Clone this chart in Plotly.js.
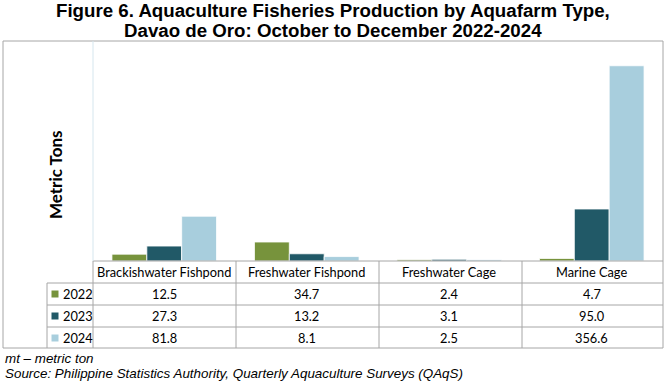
<!DOCTYPE html>
<html>
<head>
<meta charset="utf-8">
<script src="https://cdn.plot.ly/plotly-3.0.1.min.js"></script>
<style>html,body{margin:0;padding:0;background:#fff;}#chart{width:666px;height:382px;}</style>
</head>
<body>
<div id="chart"></div>
<script>
const categories = ["Brackishwater Fishpond", "Freshwater Fishpond", "Freshwater Cage", "Marine Cage"];
const years = ["2022", "2023", "2024"];
const v2022 = [12.5, 34.7, 2.4, 4.7];
const v2023 = [27.3, 13.2, 3.1, 95.0];
const v2024 = [81.8, 8.1, 2.5, 356.6];
const colors = ["#77933c", "#215967", "#a8cedd"];

const W = 666, H = 382;
const L = 93, R = 663, T = 42, B = 261;
const px = x => (x - L) / (R - L);
const py = y => (B - y) / (B - T);

const series = [v2022, v2023, v2024];
const traces = series.map((vals, i) => ({
  type: "bar", x: categories, y: vals, name: years[i],
  marker: {color: colors[i], line: {color: "#ffffff", width: 0.8}},
  hoverinfo: "x+y"
}));

const gridColor = "#a6a6a6";
const shapes = [];
function hline(y, x0, x1, color) { shapes.push({type: "line", xref: "paper", yref: "paper", x0: px(x0), x1: px(x1), y0: py(y), y1: py(y), line: {color: color || gridColor, width: 1}}); }
function vline(x, y0, y1, color) { shapes.push({type: "line", xref: "paper", yref: "paper", x0: px(x), x1: px(x), y0: py(y0), y1: py(y1), line: {color: color || gridColor, width: 1}}); }

// outer box
hline(41, 3, 663); vline(3, 41, 348); vline(663, 41, 348); hline(348, 3, 663);
// table
hline(261, 93, 663); hline(283, 47, 663); hline(305, 47, 663); hline(327, 47, 663);
vline(47, 283, 348); vline(93, 261, 348);
[236, 379, 522].forEach(x => vline(x, 261, 348));
// y axis line
vline(93, 41, 261, "#d5e6ee");

const rowY = [294, 316, 338];
const annotations = [];
const tfont = {family: "Lato, 'Open Sans', sans-serif", size: 12.8, color: "#000"};
categories.forEach(c => annotations.push({xref: "x", yref: "paper", x: c, y: py(272), text: c, showarrow: false, font: tfont, xanchor: "center", yanchor: "middle"}));
series.forEach((vals, i) => {
  shapes.push({type: "rect", xref: "paper", yref: "paper", x0: px(51.5), x1: px(58.5), y0: py(rowY[i] - 3.5), y1: py(rowY[i] + 3.5), fillcolor: colors[i], line: {width: 0}});
  annotations.push({xref: "paper", yref: "paper", x: px(61), y: py(rowY[i]), text: years[i], showarrow: false, font: tfont, xanchor: "left", yanchor: "middle"});
  vals.forEach((v, j) => annotations.push({xref: "x", yref: "paper", x: categories[j], y: py(rowY[i]), text: v.toFixed(1), showarrow: false, font: tfont, xanchor: "center", yanchor: "middle"}));
});

// titles
const titleFont = {family: "'Liberation Sans', Arial, sans-serif", size: 18.7, color: "#000"};
annotations.push({xref: "paper", yref: "paper", x: px(333), y: py(11), text: "<b>Figure 6. Aquaculture Fisheries Production by Aquafarm Type,</b>", showarrow: false, font: titleFont, xanchor: "center", yanchor: "middle"});
annotations.push({xref: "paper", yref: "paper", x: px(333), y: py(30), text: "<b>Davao de Oro: October to December 2022-2024</b>", showarrow: false, font: titleFont, xanchor: "center", yanchor: "middle"});
annotations.push({xref: "paper", yref: "paper", x: px(55), y: py(175), text: "<b>Metric Tons</b>", textangle: -90, showarrow: false, font: {family: "Lato, sans-serif", size: 17, color: "#000"}, xanchor: "center", yanchor: "middle"});
const noteFont = {family: "'Liberation Sans', Arial, sans-serif", size: 13.4, color: "#000"};
annotations.push({xref: "paper", yref: "paper", x: px(3), y: py(358), text: "<i>mt – metric ton</i>", showarrow: false, font: noteFont, xanchor: "left", yanchor: "middle"});
annotations.push({xref: "paper", yref: "paper", x: px(3), y: py(373), text: "<i>Source: Philippine Statistics Authority, Quarterly Aquaculture Surveys (QAqS)</i>", showarrow: false, font: noteFont, xanchor: "left", yanchor: "middle"});

const layout = {
  width: W, height: H,
  margin: {l: L, r: W - R, t: T, b: H - B, pad: 0},
  paper_bgcolor: "#fff", plot_bgcolor: "#fff",
  barmode: "group", bargap: 0.266, bargroupgap: 0,
  showlegend: false,
  xaxis: {type: "category", showticklabels: false, showgrid: false, zeroline: false, showline: false, ticks: ""},
  yaxis: {range: [0, 400], showticklabels: false, showgrid: false, zeroline: false, showline: false, ticks: ""},
  shapes: shapes, annotations: annotations
};
Plotly.newPlot("chart", traces, layout, {displayModeBar: false, staticPlot: true});
</script>
</body>
</html>
